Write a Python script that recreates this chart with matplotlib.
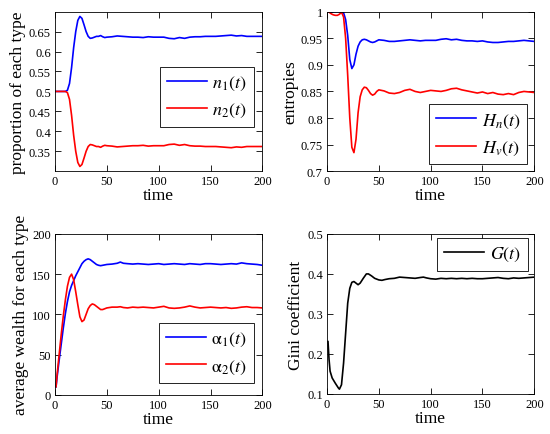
import matplotlib
matplotlib.use("Agg")
import matplotlib.pyplot as plt
from matplotlib.ticker import FuncFormatter

plt.rcParams['font.family'] = ['Liberation Serif', 'DejaVu Serif']
plt.rcParams['mathtext.fontset'] = 'stix'

# ---- Panel 1: proportion of each type ----
t1 = [0, 5, 10, 12, 14, 16, 18, 20, 22, 24, 26, 28, 30, 32, 34, 36, 38, 40, 42, 44, 46, 48, 50,
      55, 60, 65, 70, 75, 80, 85, 90, 95, 100, 105, 110, 115, 120, 125, 130, 135, 140, 145, 150,
      155, 160, 165, 170, 175, 180, 185, 190, 195, 200]
n1 = [0.5, 0.5, 0.5, 0.503, 0.52, 0.56, 0.61, 0.65, 0.678, 0.688, 0.683, 0.667, 0.650, 0.638,
      0.633, 0.634, 0.636, 0.638, 0.638, 0.640, 0.637, 0.635, 0.636, 0.637, 0.639, 0.638, 0.637,
      0.636, 0.636, 0.635, 0.637, 0.636, 0.636, 0.636, 0.633, 0.632, 0.635, 0.633, 0.636, 0.637,
      0.637, 0.638, 0.638, 0.638, 0.639, 0.640, 0.641, 0.639, 0.640, 0.638, 0.638, 0.638, 0.638]
n2 = [0.5, 0.5, 0.5, 0.497, 0.48, 0.44, 0.39, 0.35, 0.322, 0.312, 0.317, 0.333, 0.350, 0.362,
      0.367, 0.366, 0.364, 0.362, 0.362, 0.360, 0.363, 0.365, 0.364, 0.363, 0.361, 0.362, 0.363,
      0.364, 0.364, 0.365, 0.363, 0.364, 0.364, 0.364, 0.367, 0.368, 0.365, 0.367, 0.364, 0.363,
      0.363, 0.362, 0.362, 0.362, 0.361, 0.360, 0.359, 0.361, 0.360, 0.362, 0.362, 0.362, 0.362]

# ---- Panel 2: entropies ----
t2 = [0, 2, 4, 6, 8, 10, 12, 14, 16, 18, 20, 22, 24, 26, 28, 30, 32, 34, 36, 38, 40, 42, 44, 46,
      48, 50, 55, 60, 65, 70, 75, 80, 85, 90, 95, 100, 105, 110, 115, 120, 125, 130, 135, 140,
      145, 150, 155, 160, 165, 170, 175, 180, 185, 190, 195, 200]
Hn = [1.0, 1.0, 1.0, 1.0, 1.0, 1.0, 1.0, 1.0, 0.998, 0.985, 0.955, 0.91, 0.893, 0.900, 0.92,
      0.935, 0.943, 0.947, 0.948, 0.947, 0.945, 0.943, 0.942, 0.943, 0.945, 0.947, 0.946, 0.944,
      0.944, 0.945, 0.946, 0.947, 0.946, 0.945, 0.946, 0.946, 0.946, 0.948, 0.949, 0.947, 0.948,
      0.946, 0.945, 0.945, 0.944, 0.945, 0.943, 0.942, 0.942, 0.943, 0.944, 0.944, 0.945, 0.946,
      0.945, 0.944]
Hv = [1.0, 0.999, 0.996, 0.994, 0.993, 0.993, 0.995, 0.999, 0.99, 0.95, 0.88, 0.80, 0.745,
      0.735, 0.76, 0.81, 0.84, 0.853, 0.858, 0.857, 0.852, 0.846, 0.843, 0.845, 0.850, 0.853,
      0.851, 0.847, 0.846, 0.848, 0.852, 0.854, 0.850, 0.848, 0.850, 0.852, 0.851, 0.850, 0.852,
      0.855, 0.856, 0.853, 0.851, 0.849, 0.847, 0.849, 0.846, 0.848, 0.845, 0.844, 0.846, 0.844,
      0.848, 0.850, 0.849, 0.848]

# ---- Panel 3: average wealth ----
t3 = [1, 2, 4, 6, 8, 10, 12, 14, 16, 18, 20, 22, 24, 26, 28, 30, 32, 34, 36, 38, 40, 42, 44, 46,
      48, 50, 55, 60, 63, 66, 70, 75, 80, 85, 90, 95, 100, 105, 110, 115, 120, 125, 130, 135,
      140, 145, 150, 155, 160, 165, 170, 175, 180, 185, 190, 195, 200]
a1 = [10, 22, 43, 63, 83, 101, 116, 128, 136, 142, 148, 153, 158, 163, 166, 168, 169, 168, 166,
      164, 162, 161, 160.5, 161, 161.5, 162, 162.5, 163.5, 165, 163.5, 163, 162.5, 163, 162.5,
      162, 162.5, 163, 162, 162.5, 163, 162.5, 162, 163, 162.5, 162, 163, 163, 162.5, 162, 162.5,
      163, 162.5, 164, 163, 162.5, 162, 161]
a2 = [10, 25, 50, 75, 98, 118, 135, 146, 150, 143, 128, 112, 97, 91, 93, 100, 107, 111, 113, 112,
      110, 108, 106, 106, 107, 108, 109, 109, 109.5, 108.5, 108, 109, 108.5, 109, 108.5, 108, 109,
      110, 108, 107.5, 108, 109, 110.5, 109, 108, 108.5, 109, 108.5, 108, 108.5, 107.5, 108,
      109, 109.5, 108.5, 108.5, 108]

# ---- Panel 4: Gini coefficient ----
t4 = [1, 2, 3, 5, 8, 11, 12, 14, 16, 18, 20, 22, 24, 26, 28, 30, 32, 35, 38, 40, 43, 46, 50, 53,
      56, 60, 65, 70, 75, 80, 85, 90, 93, 96, 100, 105, 110, 115, 120, 125, 130, 135, 140, 145,
      150, 155, 160, 165, 170, 175, 180, 185, 190, 195, 200]
G = [0.231, 0.186, 0.157, 0.140, 0.127, 0.115, 0.112, 0.123, 0.177, 0.252, 0.327, 0.364, 0.379,
     0.381, 0.377, 0.373, 0.377, 0.389, 0.400, 0.400, 0.395, 0.389, 0.385, 0.384, 0.386, 0.388,
     0.389, 0.392, 0.391, 0.390, 0.389, 0.391, 0.392, 0.390, 0.388, 0.387, 0.389, 0.388, 0.389,
     0.388, 0.389, 0.388, 0.389, 0.388, 0.388, 0.389, 0.390, 0.391, 0.389, 0.388, 0.390, 0.389,
     0.390, 0.391, 0.392]

fig = plt.figure(figsize=(5.5, 4.35), dpi=100)

W = 0.377
H = 0.367
ax1 = fig.add_axes([0.100, 0.604, W, H])
ax2 = fig.add_axes([0.5945, 0.604, W, H])
ax3 = fig.add_axes([0.100, 0.090, W, 0.370])
ax4 = fig.add_axes([0.5945, 0.092, W, 0.368])

lw = 1.2
fs_tick = 9
fs_lab = 12.5
fs_leg = 13

def style(ax):
    ax.tick_params(direction='in', top=True, right=True, length=4, width=0.6,
                   labelsize=fs_tick, pad=3)
    for s in ax.spines.values():
        s.set_linewidth(0.6)
    ax.set_xlim(0, 200)
    ax.set_xticks([0, 50, 100, 150, 200])
    ax.set_xlabel('time', fontsize=fs_lab, labelpad=0)
    ax.yaxis.set_major_formatter(FuncFormatter(lambda v, p: '%g' % round(v, 4)))

def leg(ax, **kw):
    L = ax.legend(fontsize=fs_leg, frameon=True, fancybox=False, edgecolor='black',
                  framealpha=1, handlelength=2.2, handletextpad=0.3, borderpad=0.4,
                  labelspacing=0.5, borderaxespad=0, **kw)
    L.get_frame().set_linewidth(0.6)
    return L

ax1.plot(t1, n1, color='#0000ff', lw=lw, label=r'$n_1(t)$')
ax1.plot(t1, n2, color='#ff0000', lw=lw, label=r'$n_2(t)$')
style(ax1)
ax1.set_ylim(0.3, 0.7)
ax1.set_yticks([0.35, 0.4, 0.45, 0.5, 0.55, 0.6, 0.65])
ax1.set_ylabel('proportion of each type', fontsize=fs_lab, labelpad=2)
leg(ax1, loc='upper right', bbox_to_anchor=(0.96, 0.654))

ax2.plot(t2, Hn, color='#0000ff', lw=lw, label=r'$H_n(t)$')
ax2.plot(t2, Hv, color='#ff0000', lw=lw, label=r'$H_v(t)$')
style(ax2)
ax2.set_ylim(0.7, 1.0)
ax2.set_yticks([0.7, 0.75, 0.8, 0.85, 0.9, 0.95, 1.0])
ax2.set_ylabel('entropies', fontsize=fs_lab, labelpad=2)
leg(ax2, loc='lower right', bbox_to_anchor=(0.966, 0.044))

ax3.plot(t3, a1, color='#0000ff', lw=lw, label=r'$\mathrm{\alpha}_1(t)$')
ax3.plot(t3, a2, color='#ff0000', lw=lw, label=r'$\mathrm{\alpha}_2(t)$')
style(ax3)
ax3.set_ylim(0, 200)
ax3.set_yticks([0, 50, 100, 150, 200])
ax3.set_ylabel('average wealth for each type', fontsize=fs_lab, labelpad=2)
leg(ax3, loc='lower right', bbox_to_anchor=(0.96, 0.075))

ax4.plot(t4, G, color='black', lw=lw, label=r'$G(t)$')
style(ax4)
ax4.set_ylim(0.1, 0.5)
ax4.set_yticks([0.1, 0.2, 0.3, 0.4, 0.5])
ax4.set_ylabel('Gini coefficient', fontsize=fs_lab, labelpad=2)
leg(ax4, loc='upper right', bbox_to_anchor=(0.97, 0.975))

fig.savefig('out.png', dpi=100)
